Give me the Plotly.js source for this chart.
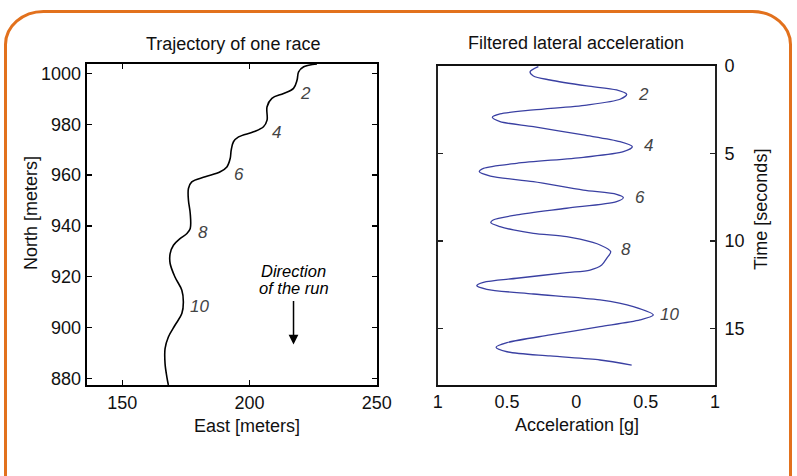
<!DOCTYPE html>
<html>
<head>
<meta charset="utf-8">
<script src="https://cdn.plot.ly/plotly-3.0.1.min.js"></script>
<style>html,body{margin:0;padding:0;background:#fff}#chart{width:797px;height:476px}</style>
</head>
<body>
<div id="chart"></div>
<script>
// Trajectory of one race (start at top, run goes down)
const eastMeters = [226.5, 221.3, 219.3, 218.7, 217.3, 213.4, 208.8, 206.9, 206.9, 205.5, 201.6, 195.7, 193.7, 192.8, 192.4, 191.1, 188.5, 182.6, 177.3, 176.0, 176.0, 176.7, 176.7, 175.4, 172.7, 170.1, 168.8, 168.8, 170.7, 173.4, 174.0, 173.4, 170.7, 168.1, 166.8, 166.8, 167.5, 168.1];
const northMeters = [1003.7, 1002.6, 1000.6, 997.4, 994.1, 992.1, 990.2, 986.9, 981.6, 979.0, 977.0, 975.0, 973.1, 969.8, 966.5, 963.2, 961.3, 959.3, 957.3, 954.7, 950.1, 944.9, 939.0, 937.0, 935.0, 932.4, 929.1, 925.2, 919.9, 914.7, 910.1, 905.5, 900.9, 896.3, 891.7, 885.8, 880.6, 877.4];

// Filtered lateral acceleration
const timeSec = [0.04,0.33,0.57,0.8,1.14,1.37,1.62,1.90,2.23,2.51,2.74,2.93,3.18,3.47,3.94,4.32,4.61,4.90,5.22,5.56,5.85,6.04,6.29,6.61,7.09,7.33,7.52,7.75,8.13,8.51,8.8,8.95,9.18,9.37,9.56,9.75,9.9,10.23,10.61,10.99,11.37,11.66,11.81,12.13,12.36,12.55,12.76,13.03,13.37,13.75,14.23,14.51,14.9,15.37,15.81,16.07,16.33,16.57,16.8,17.09];
const accelG = [-0.274,-0.334,-0.31,-0.19,0.075,0.29,0.363,0.315,0.075,-0.31,-0.55,-0.606,-0.55,-0.31,0.05,0.315,0.404,0.339,0.05,-0.43,-0.67,-0.70,-0.62,-0.31,0.05,0.29,0.339,0.29,-0.07,-0.43,-0.60,-0.617,-0.55,-0.454,-0.31,-0.07,0.027,0.171,0.248,0.219,0.183,0.099,-0.07,-0.43,-0.67,-0.718,-0.646,-0.31,0.171,0.411,0.555,0.459,0.171,-0.19,-0.50,-0.579,-0.50,-0.19,0.171,0.399];

// Turn labels
const turnLabels = ['2','4','6','8','10'];
const turnEast = [222.2, 210.5, 195.7, 181.9, 180.2];
const turnNorth = [991.9, 976.6, 960.2, 937.4, 908.4];
const turnAccel = [0.483, 0.519, 0.459, 0.358, 0.67];
const turnTime = [1.62, 4.55, 7.52, 10.51, 14.19];

// Tick labels
const eastTicks = [150, 200, 250];
const northTicks = [880, 900, 920, 940, 960, 980, 1000];
const accelTickVals = [-1, -0.5, 0, 0.5, 1];
const accelTickText = ['1', '0.5', '0', '0.5', '1'];
const timeTicks = [0, 5, 10, 15];

const W = 797, H = 476;
const px = v => v / W, py = v => 1 - v / H;
const FONT = 'Liberation Sans, Arial, sans-serif';

const traces = [
  {x: eastMeters, y: northMeters, xaxis: 'x', yaxis: 'y', mode: 'lines',
   line: {color: '#000', width: 1.6, shape: 'spline', smoothing: 1}, hoverinfo: 'skip'},
  {x: accelG, y: timeSec, xaxis: 'x2', yaxis: 'y2', mode: 'lines',
   line: {color: '#3a40a2', width: 1.3, shape: 'spline', smoothing: 0.8}, hoverinfo: 'skip'}
];

const C = {xanchor: 'center', yanchor: 'middle', showarrow: false};
const annotations = [];
turnLabels.forEach((t, i) => {
  annotations.push(Object.assign({x: turnEast[i], y: turnNorth[i], xref: 'x', yref: 'y', text: '<i>' + t + '</i>',
    font: {family: FONT, size: 17, color: '#444'}}, C));
  annotations.push(Object.assign({x: turnAccel[i], y: turnTime[i], xref: 'x2', yref: 'y2', text: '<i>' + t + '</i>',
    font: {family: FONT, size: 17, color: '#444'}}, C));
});
// direction of the run
annotations.push(Object.assign({x: 217.3, y: 922.3, xref: 'x', yref: 'y', text: '<i>Direction</i>',
  font: {family: FONT, size: 16.5, color: '#000'}}, C));
annotations.push(Object.assign({x: 217.3, y: 915.5, xref: 'x', yref: 'y', text: '<i>of the run</i>',
  font: {family: FONT, size: 16.5, color: '#000'}}, C));
annotations.push({x: 217.3, y: 893.3, ax: 217.3, ay: 911.0, xref: 'x', yref: 'y', axref: 'x', ayref: 'y',
  text: '', showarrow: true, arrowhead: 2, arrowsize: 1.3, arrowwidth: 1.5, arrowcolor: '#000', standoff: 0});
// titles
const titleFont = {family: FONT, size: 18, color: '#111'};
annotations.push(Object.assign({x: px(233), y: py(44), xref: 'paper', yref: 'paper', text: 'Trajectory of one race', font: titleFont}, C));
annotations.push(Object.assign({x: px(576), y: py(43), xref: 'paper', yref: 'paper', text: 'Filtered lateral acceleration', font: titleFont}, C));
annotations.push(Object.assign({x: px(247), y: py(426), xref: 'paper', yref: 'paper', text: 'East [meters]', font: titleFont}, C));
annotations.push(Object.assign({x: px(577), y: py(425), xref: 'paper', yref: 'paper', text: 'Acceleration [g]', font: titleFont}, C));
annotations.push(Object.assign({x: px(31), y: py(213), xref: 'paper', yref: 'paper', text: 'North [meters]', textangle: -90, font: titleFont}, C));
annotations.push(Object.assign({x: px(761), y: py(210), xref: 'paper', yref: 'paper', text: 'Time [seconds]', textangle: -90, font: titleFont}, C));

// rounded orange frame
const L = 5.5, R = 790.5, T = 11.5, B = 500, rx = 38, ry = 33, k = 0.45;
const framePath = [
  'M', px(L), py(B),
  'L', px(L), py(T + ry),
  'C', px(L), py(T + ry * k), px(L + rx * k), py(T), px(L + rx), py(T),
  'L', px(R - rx), py(T),
  'C', px(R - rx * k), py(T), px(R), py(T + ry * k), px(R), py(T + ry),
  'L', px(R), py(B)
].join(' ');

const tickFont = {family: FONT, size: 18, color: '#111'};
const layout = {
  width: W, height: H,
  margin: {l: 0, r: 0, t: 0, b: 0},
  paper_bgcolor: '#fff', plot_bgcolor: '#fff',
  showlegend: false,
  xaxis: {domain: [px(86.7), px(376.7)], anchor: 'y', range: [136, 250], tickvals: eastTicks,
    ticks: 'inside', ticklen: 5, tickwidth: 1.2, tickcolor: '#000', mirror: 'ticks', showline: true, linewidth: 2, linecolor: '#000',
    showgrid: false, zeroline: false, tickfont: tickFont, ticklabelstandoff: 0},
  yaxis: {domain: [py(385), py(64)], anchor: 'x', range: [877.4, 1003.7], tickvals: northTicks,
    ticks: 'inside', ticklen: 5, tickwidth: 1.2, tickcolor: '#000', mirror: 'ticks', showline: true, linewidth: 2, linecolor: '#000',
    showgrid: false, zeroline: false, tickfont: tickFont},
  xaxis2: {domain: [px(437.7), px(715)], anchor: 'y2', range: [-1, 1], tickvals: accelTickVals, ticktext: accelTickText,
    ticks: '', mirror: true, showline: true, linewidth: 1.8, linecolor: '#111',
    showgrid: false, zeroline: false, tickfont: tickFont, ticklabelstandoff: 0},
  yaxis2: {domain: [py(385), py(66)], anchor: 'x2', side: 'right', range: [18.23, 0], tickvals: timeTicks,
    ticks: 'inside', ticklen: 5, tickwidth: 1.2, tickcolor: '#222', mirror: 'ticks', showline: true, linewidth: 1.8, linecolor: '#222',
    showgrid: false, zeroline: false, tickfont: tickFont, ticklabelstandoff: 4},
  annotations: annotations,
  shapes: [{type: 'path', xref: 'paper', yref: 'paper', path: framePath, line: {color: '#e2711d', width: 3}, layer: 'below'}]
};

Plotly.newPlot('chart', traces, layout, {staticPlot: true, displayModeBar: false});
</script>
</body>
</html>
